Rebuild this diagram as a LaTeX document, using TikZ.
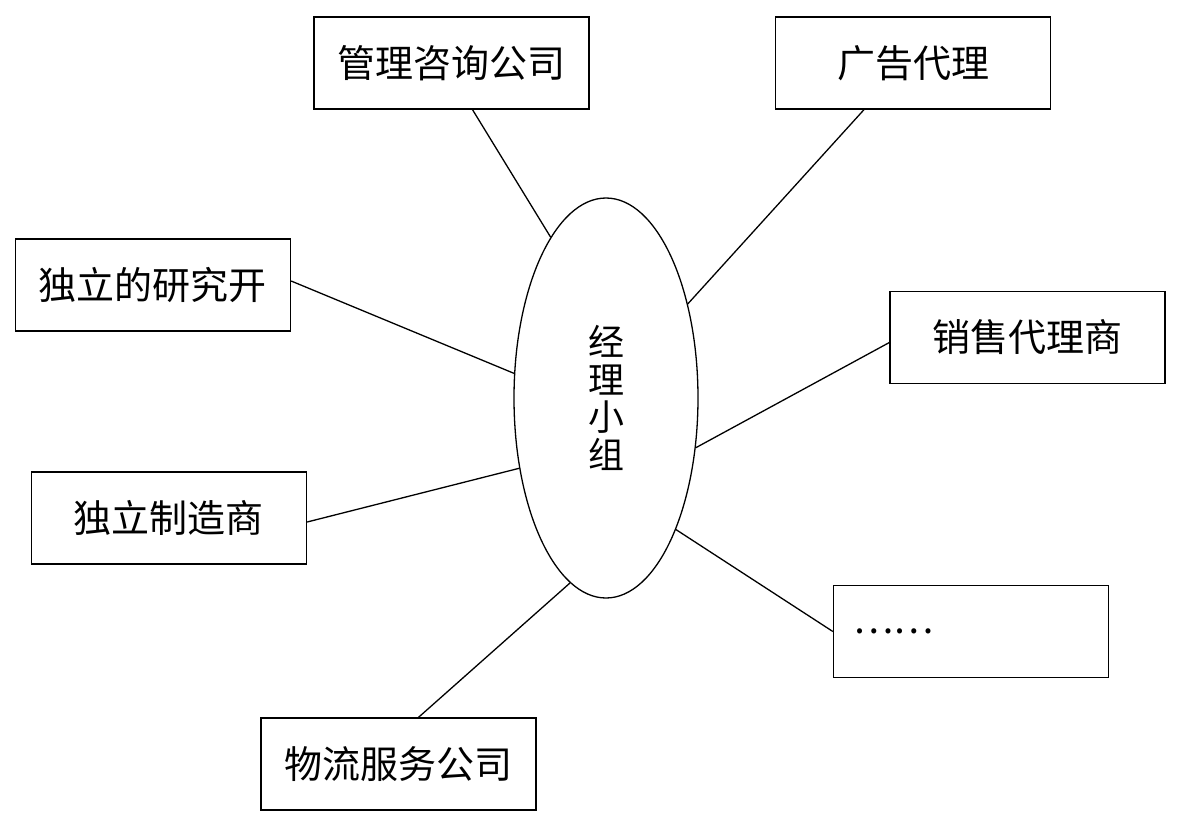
\documentclass[tikz,border=0pt]{standalone}
\usepackage{fontspec}
\setmainfont{Noto Sans CJK SC}
\usetikzlibrary{shapes.geometric,calc}
\tikzset{
    partnerbox/.style={
        rectangle,
        draw=black,
        line width=0.65pt,
        minimum width=137.5pt,
        minimum height=46pt,
        inner sep=2pt,
        text centered
    },
    coreellipse/.style={
        ellipse,
        draw=black,
        line width=0.65pt,
        minimum width=92pt,
        minimum height=200pt,
        inner sep=0pt,
        align=center,
        font={\fontsize{18}{18.75}\selectfont}
    },
    link/.style={draw, line width=0.65pt},
    font={\fontsize{19}{22}\selectfont},
}

\begin{document}
\begin{tikzpicture}[x=0.5pt, y=-0.5pt]
\useasboundingbox (0,0) rectangle (1180,826);

\node[coreellipse] (grp) at (606,398) {经\\理\\小\\组};

\node[partnerbox] (mgmt) at (451.5,63) {管理咨询公司};
\node[partnerbox] (ad) at (913,63) {广告代理};
\node[partnerbox] (research) at (153,285) {独立的研究开};
\node[partnerbox] (sales) at (1027.5,337.5) {销售代理商};
\node[partnerbox] (manuf) at (169,518) {独立制造商};
\node[partnerbox, text width=118pt, align=left, inner xsep=9.5pt] (more) at (971,631.5) {……};
\node[partnerbox] (logi) at (398.5,764) {物流服务公司};

\draw[link] ($(mgmt.south)+(21,0)$) -- (grp.109.6);
\draw[link] ($(ad.south)+(-49,0)$) -- (grp.49.5);
\draw[link] ($(research.east)+(0,-4)$) -- (grp.165.2);
\draw[link] ($(sales.west)+(0,5)$) -- (grp.-29.8);
\draw[link] ($(manuf.east)+(0,4)$) -- (grp.219.2);
\draw[link] (more.west) -- (grp.-62.1);
\draw[link] ($(logi.north)+(20,0)$) -- (grp.259);
\end{tikzpicture}
\end{document}
